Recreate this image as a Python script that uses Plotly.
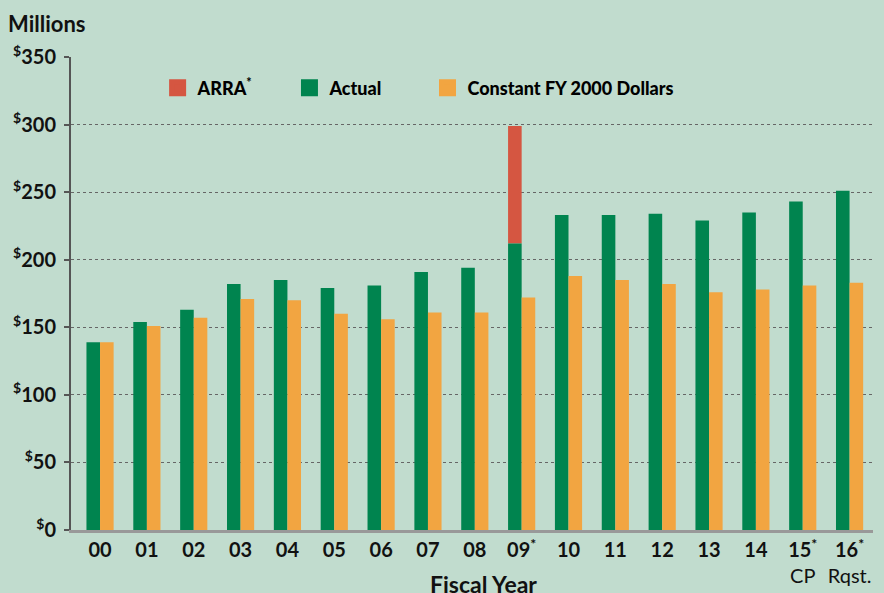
import plotly.graph_objects as go

years = ["00", "01", "02", "03", "04", "05", "06", "07", "08", "09", "10", "11", "12", "13", "14", "15", "16"]
tick_labels = ["<b>00</b>", "<b>01</b>", "<b>02</b>", "<b>03</b>", "<b>04</b>", "<b>05</b>", "<b>06</b>",
               "<b>07</b>", "<b>08</b>", "<b>09<sup>*</sup></b>", "<b>10</b>", "<b>11</b>", "<b>12</b>",
               "<b>13</b>", "<b>14</b>", "<b>15<sup>*</sup></b><br>CP", "<b>16<sup>*</sup></b><br>Rqst."]
actual = [139, 154, 163, 182, 185, 179, 181, 191, 194, 212, 233, 233, 234, 229, 235, 243, 251]
constant_2000 = [139, 151, 157, 171, 170, 160, 156, 161, 161, 172, 188, 185, 182, 176, 178, 181, 183]
arra_year = ["09"]
arra_value = [87]
arra_base = [212]

y_ticks = [0, 50, 100, 150, 200, 250, 300, 350]
y_tick_text = ["<b><sup>$</sup>%d</b>" % v for v in y_ticks]

GREEN = "#00844F"
ORANGE = "#F2A541"
RED = "#D55641"
BG = "#C1DCCE"
FONT = "Lato"
INK = "#111111"

fig = go.Figure()
# data traces
fig.add_trace(go.Bar(name="ARRA<sup>*</sup>", x=arra_year, y=arra_value, base=arra_base,
                     offsetgroup="a", showlegend=False, marker=dict(color=RED, line=dict(width=0))))
fig.add_trace(go.Bar(name="Actual", x=years, y=actual, offsetgroup="a", showlegend=False,
                     marker=dict(color=GREEN, line=dict(width=0))))
fig.add_trace(go.Bar(name="Constant FY 2000 Dollars", x=years, y=constant_2000, offsetgroup="b",
                     showlegend=False, marker=dict(color=ORANGE, line=dict(width=0))))
# legend entries (larger swatches)
for name, color, grp, leg in [("ARRA<sup>*</sup>", RED, "a", "legend"),
                              ("Actual", GREEN, "a", "legend2"),
                              ("Constant FY 2000 Dollars", ORANGE, "b", "legend3")]:
    fig.add_trace(go.Bar(name=name, x=[None], y=[None], offsetgroup=grp, legend=leg, showlegend=True,
                         hoverinfo="skip",
                         marker=dict(color=color, line=dict(color=color, width=6))))

leg_common = dict(orientation="h", yanchor="middle", y=0.9345, xanchor="left",
                  bgcolor="rgba(0,0,0,0)",
                  font=dict(size=18, family=FONT, color="#000000", weight=900))

fig.update_layout(
    width=884, height=593,
    paper_bgcolor=BG, plot_bgcolor=BG,
    margin=dict(l=71, r=11, t=57, b=63),
    barmode="group", bargap=0.42, bargroupgap=0,
    font=dict(family=FONT, color=INK, size=20),
    title=dict(text="<b>Millions</b>", x=8/884, xanchor="left", y=1-24/593, yanchor="middle",
               font=dict(size=22, family=FONT, color=INK)),
    legend=dict(x=0.108, **leg_common),
    legend2=dict(x=0.2724, **leg_common),
    legend3=dict(x=0.4445, **leg_common),
    showlegend=True,
)
fig.update_xaxes(type="category", categoryorder="array", categoryarray=years,
                 tickvals=years, ticktext=tick_labels, range=[-0.62, 16.5], automargin=False,
                 showline=True, linecolor="#999999", linewidth=3, ticks="", showgrid=False,
                 tickfont=dict(size=20, family=FONT, color=INK))
fig.update_yaxes(range=[0, 350], tickvals=y_ticks, ticktext=y_tick_text, automargin=False,
                 showline=True, linecolor="#555555", linewidth=2,
                 ticks="outside", ticklen=5, tickcolor="#555555", tickwidth=2, ticklabelstandoff=4,
                 showgrid=True, gridcolor="#666666", griddash="dot", gridwidth=1,
                 zeroline=False, tickfont=dict(size=20, family=FONT, color=INK))
fig.add_annotation(text="<b>Fiscal Year</b>", xref="paper", yref="paper", x=(484-71)/802, y=-(584-530)/473,
                   xanchor="center", yanchor="middle", showarrow=False,
                   font=dict(size=23, family=FONT, color=INK))

fig.write_html("out.html", config={"displayModeBar": False},
               post_script="document.body.style.margin='0';")
